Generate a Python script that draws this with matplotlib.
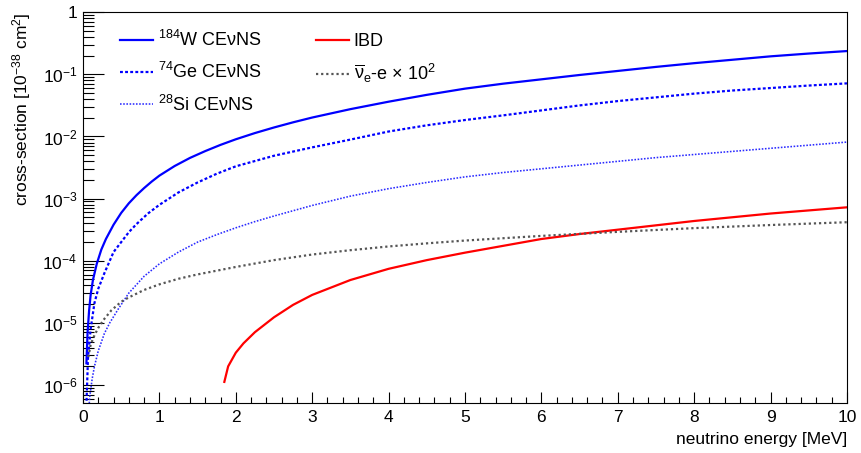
import numpy as np
import matplotlib
matplotlib.use("Agg")
import matplotlib.pyplot as plt
from matplotlib.ticker import LogLocator, MultipleLocator, FixedLocator, NullFormatter

plt.rcParams['font.family'] = ['Liberation Sans', 'DejaVu Sans']
plt.rcParams['mathtext.fontset'] = 'custom'
plt.rcParams['mathtext.rm'] = 'Liberation Sans'
plt.rcParams['mathtext.it'] = 'Liberation Sans'
plt.rcParams['mathtext.default'] = 'regular'

# values: energy in MeV, log10 of cross-section in 1e-38 cm^2
w_e = [0.045, 0.06, 0.08, 0.1, 0.13, 0.18, 0.24, 0.3, 0.4, 0.5, 0.6, 0.7, 0.8, 0.9,
       1.0, 1.2, 1.4, 1.6, 1.8, 2.0, 2.25, 2.5, 2.75, 3.0, 3.5, 4.0, 4.5, 5.0, 5.5,
       6.0, 6.5, 7.0, 7.5, 8.0, 8.5, 9.0, 9.5, 10.0]
w_log = [-5.65, -5.15, -4.8, -4.55, -4.31, -4.05, -3.82, -3.65, -3.42, -3.23, -3.075,
         -2.945, -2.83, -2.725, -2.63, -2.475, -2.345, -2.235, -2.135, -2.045, -1.945,
         -1.855, -1.772, -1.695, -1.56, -1.44, -1.33, -1.23, -1.15, -1.08, -1.01,
         -0.945, -0.88, -0.82, -0.765, -0.71, -0.665, -0.625]

ge_e = [0.04, 0.066, 0.1, 0.15, 0.2, 0.28, 0.4, 0.5, 0.6, 0.7, 0.85, 1.0, 1.25, 1.5,
        1.75, 2.0, 2.5, 3.0, 3.5, 4.0, 4.5, 5.0, 5.5, 6.0, 6.5, 7.0, 7.5, 8.0, 8.5,
        9.0, 9.5, 10.0]
ge_log = [-6.5, -5.54, -5.1, -4.68, -4.45, -4.20, -3.86, -3.70, -3.54, -3.41, -3.24,
          -3.10, -2.90, -2.74, -2.60, -2.48, -2.31, -2.175, -2.05, -1.92, -1.82,
          -1.735, -1.66, -1.58, -1.50, -1.43, -1.37, -1.31, -1.26, -1.22, -1.18, -1.145]

si_e = [0.07, 0.088, 0.12, 0.15, 0.2, 0.28, 0.35, 0.46, 0.6, 0.8, 1.0, 1.25, 1.5,
        1.75, 2.0, 2.25, 2.5, 3.0, 3.5, 4.0, 4.5, 5.0, 5.5, 6.0, 6.5, 7.0, 7.5, 8.0,
        8.5, 9.0, 9.5, 10.0]
si_log = [-6.5, -6.19, -5.9, -5.70, -5.45, -5.17, -5.0, -4.78, -4.52, -4.25, -4.05,
          -3.86, -3.70, -3.58, -3.47, -3.37, -3.28, -3.11, -2.96, -2.84, -2.74, -2.65,
          -2.58, -2.52, -2.46, -2.40, -2.34, -2.29, -2.24, -2.19, -2.14, -2.09]

ibd_e = [1.85, 1.9, 2.0, 2.1, 2.25, 2.5, 2.75, 3.0, 3.5, 4.0, 4.5, 5.0, 5.5, 6.0,
         6.5, 7.0, 7.5, 8.0, 8.5, 9.0, 9.5, 10.0]
ibd_log = [-5.95, -5.70, -5.48, -5.33, -5.15, -4.91, -4.71, -4.55, -4.31, -4.13,
           -3.99, -3.87, -3.76, -3.65, -3.57, -3.50, -3.43, -3.36, -3.30, -3.24,
           -3.19, -3.14]

nue_e = [0.07, 0.1, 0.15, 0.2, 0.27, 0.37, 0.5, 0.6, 0.8, 1.0, 1.25, 1.5, 2.0, 2.5,
         3.0, 3.5, 4.0, 4.5, 5.0, 6.0, 7.0, 8.0, 9.0, 10.0]
nue_log = [-5.55, -5.35, -5.2, -5.08, -4.95, -4.80, -4.66, -4.59, -4.47, -4.38,
           -4.29, -4.22, -4.10, -3.99, -3.90, -3.83, -3.77, -3.72, -3.675, -3.60,
           -3.535, -3.475, -3.425, -3.38]

fig = plt.figure(figsize=(8.61, 4.53), dpi=100)
ax = fig.add_axes([0.0964, 0.110, 0.8873, 0.863])

blue = '#0000ff'
ax.plot(w_e, 10 ** np.array(w_log), color=blue, lw=1.6, label=r'$^{184}$W CEνNS')
ax.plot(ge_e, 10 ** np.array(ge_log), color=blue, lw=1.6, linestyle=(0, (1.3, 1.0)),
        label=r'$^{74}$Ge CEνNS')
ax.plot(si_e, 10 ** np.array(si_log), color='#2a2aff', lw=1.15, linestyle=(0, (1.0, 1.0)),
        label=r'$^{28}$Si CEνNS')
ax.plot(ibd_e, 10 ** np.array(ibd_log), color='#ff0000', lw=1.6, label='IBD')
ax.plot(nue_e, 10 ** np.array(nue_log), color='#555555', lw=1.6,
        linestyle=(0, (1.0, 1.3)), label=r'$\overline{\nu}_e$-e $\times$ 10$^2$')

ax.set_yscale('log')
ax.set_xlim(0, 10)
ax.set_ylim(5.1e-7, 1.0)

ax.xaxis.set_major_locator(MultipleLocator(1))
ax.xaxis.set_minor_locator(MultipleLocator(0.2))
ax.yaxis.set_major_locator(FixedLocator([1e-6, 1e-5, 1e-4, 1e-3, 1e-2, 1e-1, 1]))
ax.yaxis.set_minor_locator(LogLocator(base=10, subs=np.arange(2, 10), numticks=20))
ax.yaxis.set_minor_formatter(NullFormatter())
ylabels = ['$10^{-6}$', '$10^{-5}$', '$10^{-4}$', '$10^{-3}$', '$10^{-2}$', '$10^{-1}$', '1']
ax.set_yticklabels(ylabels)

ax.tick_params(axis='both', which='both', direction='in', top=False, right=False,
               labelsize=12.5, colors='black', width=0.8)
ax.tick_params(axis='y', which='major', length=15, pad=4)
ax.tick_params(axis='y', which='minor', length=8)
ax.tick_params(axis='x', which='major', length=8, pad=5)
ax.tick_params(axis='x', which='minor', length=4)
for s in ax.spines.values():
    s.set_linewidth(0.8)

ax.set_xlabel('neutrino energy [MeV]', fontsize=12.5, loc='right')
ax.xaxis.set_label_coords(1.0, -0.075)
ax.set_ylabel(r'cross-section [10$^{-38}$ cm$^{2}$]', fontsize=12.5, loc='top')
ax.yaxis.set_label_coords(-0.066, 1.0)

ax.legend(loc='upper left', bbox_to_anchor=(0.048, 0.955), ncol=2, frameon=False,
          fontsize=13, handlelength=1.85, handletextpad=0.25, columnspacing=3.0,
          labelspacing=0.68, borderpad=0, borderaxespad=0)

fig.savefig('out.png', dpi=100)
